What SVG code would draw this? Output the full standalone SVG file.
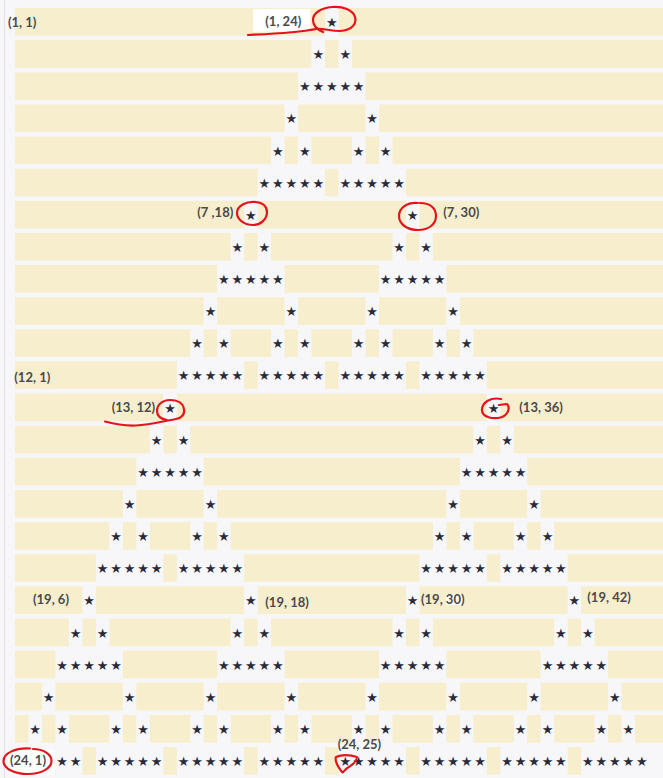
<svg xmlns="http://www.w3.org/2000/svg" width="663" height="778" viewBox="0 0 663 778">
<style>
.bg{fill:#f7f7fa}
.edge{stroke:#e1e1e6;stroke-width:1}
.b{fill:#f7eece}
.s{font-family:"DejaVu Sans",sans-serif;font-size:13px;fill:#2b2b3a;text-anchor:middle}
.box{fill:#ffffff}
.t{font-family:Lato,"Liberation Sans",sans-serif;font-size:13px;font-weight:bold;fill:#4a4a4a}
.r{fill:none;stroke:#e5131b;stroke-width:2.2;stroke-linecap:round;stroke-linejoin:round}
</style>
<rect class="bg" x="0" y="0" width="663" height="778"/>
<line class="edge" x1="4.5" y1="0" x2="4.5" y2="778"/>
<g id="grid">
<g id="row-01" transform="translate(0,8)">
<rect class="b" x="15" y="0" width="310.04" height="27.7"/><rect class="b" x="338.52" y="0" width="324.48" height="27.7"/>
<text class="s" x="331.8" y="19">★</text>
</g>
<g id="row-02" transform="translate(0,40.1)">
<rect class="b" x="15" y="0" width="296.56" height="27.7"/><rect class="b" x="325.04" y="0" width="13.48" height="27.7"/><rect class="b" x="352" y="0" width="311" height="27.7"/>
<text class="s" x="318.3" y="19">★</text><text class="s" x="345.3" y="19">★</text>
</g>
<g id="row-03" transform="translate(0,72.3)">
<rect class="b" x="15" y="0" width="283.08" height="27.7"/><rect class="b" x="365.48" y="0" width="297.52" height="27.7"/>
<text class="s" x="304.8 318.3 331.8 345.3 358.7" y="19">★★★★★</text>
</g>
<g id="row-04" transform="translate(0,104.4)">
<rect class="b" x="15" y="0" width="269.6" height="27.7"/><rect class="b" x="298.08" y="0" width="67.4" height="27.7"/><rect class="b" x="378.96" y="0" width="284.04" height="27.7"/>
<text class="s" x="291.3" y="19">★</text><text class="s" x="372.2" y="19">★</text>
</g>
<g id="row-05" transform="translate(0,136.5)">
<rect class="b" x="15" y="0" width="256.12" height="27.7"/><rect class="b" x="284.6" y="0" width="13.48" height="27.7"/><rect class="b" x="311.56" y="0" width="40.44" height="27.7"/><rect class="b" x="365.48" y="0" width="13.48" height="27.7"/><rect class="b" x="392.44" y="0" width="270.56" height="27.7"/>
<text class="s" x="277.9" y="19">★</text><text class="s" x="304.8" y="19">★</text><text class="s" x="358.7" y="19">★</text><text class="s" x="385.7" y="19">★</text>
</g>
<g id="row-06" transform="translate(0,168.7)">
<rect class="b" x="15" y="0" width="242.64" height="27.7"/><rect class="b" x="325.04" y="0" width="13.48" height="27.7"/><rect class="b" x="405.92" y="0" width="257.08" height="27.7"/>
<text class="s" x="264.4 277.9 291.3 304.8 318.3" y="19">★★★★★</text><text class="s" x="345.3 358.7 372.2 385.7 399.2" y="19">★★★★★</text>
</g>
<g id="row-07" transform="translate(0,200.8)">
<rect class="b" x="15" y="0" width="229.16" height="27.7"/><rect class="b" x="257.64" y="0" width="148.28" height="27.7"/><rect class="b" x="419.4" y="0" width="243.6" height="27.7"/>
<text class="s" x="250.9" y="19">★</text><text class="s" x="412.7" y="19">★</text>
</g>
<g id="row-08" transform="translate(0,232.9)">
<rect class="b" x="15" y="0" width="215.68" height="27.7"/><rect class="b" x="244.16" y="0" width="13.48" height="27.7"/><rect class="b" x="271.12" y="0" width="121.32" height="27.7"/><rect class="b" x="405.92" y="0" width="13.48" height="27.7"/><rect class="b" x="432.88" y="0" width="230.12" height="27.7"/>
<text class="s" x="237.4" y="19">★</text><text class="s" x="264.4" y="19">★</text><text class="s" x="399.2" y="19">★</text><text class="s" x="426.1" y="19">★</text>
</g>
<g id="row-09" transform="translate(0,265)">
<rect class="b" x="15" y="0" width="202.2" height="27.7"/><rect class="b" x="284.6" y="0" width="94.36" height="27.7"/><rect class="b" x="446.36" y="0" width="216.64" height="27.7"/>
<text class="s" x="223.9 237.4 250.9 264.4 277.9" y="19">★★★★★</text><text class="s" x="385.7 399.2 412.7 426.1 439.6" y="19">★★★★★</text>
</g>
<g id="row-10" transform="translate(0,297.2)">
<rect class="b" x="15" y="0" width="188.72" height="27.7"/><rect class="b" x="217.2" y="0" width="67.4" height="27.7"/><rect class="b" x="298.08" y="0" width="67.4" height="27.7"/><rect class="b" x="378.96" y="0" width="67.4" height="27.7"/><rect class="b" x="459.84" y="0" width="203.16" height="27.7"/>
<text class="s" x="210.5" y="19">★</text><text class="s" x="291.3" y="19">★</text><text class="s" x="372.2" y="19">★</text><text class="s" x="453.1" y="19">★</text>
</g>
<g id="row-11" transform="translate(0,329.3)">
<rect class="b" x="15" y="0" width="175.24" height="27.7"/><rect class="b" x="203.72" y="0" width="13.48" height="27.7"/><rect class="b" x="230.68" y="0" width="40.44" height="27.7"/><rect class="b" x="284.6" y="0" width="13.48" height="27.7"/><rect class="b" x="311.56" y="0" width="40.44" height="27.7"/><rect class="b" x="365.48" y="0" width="13.48" height="27.7"/><rect class="b" x="392.44" y="0" width="40.44" height="27.7"/><rect class="b" x="446.36" y="0" width="13.48" height="27.7"/><rect class="b" x="473.32" y="0" width="189.68" height="27.7"/>
<text class="s" x="197" y="19">★</text><text class="s" x="223.9" y="19">★</text><text class="s" x="277.9" y="19">★</text><text class="s" x="304.8" y="19">★</text><text class="s" x="358.7" y="19">★</text><text class="s" x="385.7" y="19">★</text><text class="s" x="439.6" y="19">★</text><text class="s" x="466.6" y="19">★</text>
</g>
<g id="row-12" transform="translate(0,361.4)">
<rect class="b" x="15" y="0" width="161.76" height="27.7"/><rect class="b" x="244.16" y="0" width="13.48" height="27.7"/><rect class="b" x="325.04" y="0" width="13.48" height="27.7"/><rect class="b" x="405.92" y="0" width="13.48" height="27.7"/><rect class="b" x="486.8" y="0" width="176.2" height="27.7"/>
<text class="s" x="183.5 197 210.5 223.9 237.4" y="19">★★★★★</text><text class="s" x="264.4 277.9 291.3 304.8 318.3" y="19">★★★★★</text><text class="s" x="345.3 358.7 372.2 385.7 399.2" y="19">★★★★★</text><text class="s" x="426.1 439.6 453.1 466.6 480.1" y="19">★★★★★</text>
</g>
<g id="row-13" transform="translate(0,393.6)">
<rect class="b" x="15" y="0" width="148.28" height="27.7"/><rect class="b" x="176.76" y="0" width="310.04" height="27.7"/><rect class="b" x="500.28" y="0" width="162.72" height="27.7"/>
<text class="s" x="170" y="19">★</text><text class="s" x="493.5" y="19">★</text>
</g>
<g id="row-14" transform="translate(0,425.7)">
<rect class="b" x="15" y="0" width="134.8" height="27.7"/><rect class="b" x="163.28" y="0" width="13.48" height="27.7"/><rect class="b" x="190.24" y="0" width="283.08" height="27.7"/><rect class="b" x="486.8" y="0" width="13.48" height="27.7"/><rect class="b" x="513.76" y="0" width="149.24" height="27.7"/>
<text class="s" x="156.5" y="19">★</text><text class="s" x="183.5" y="19">★</text><text class="s" x="480.1" y="19">★</text><text class="s" x="507" y="19">★</text>
</g>
<g id="row-15" transform="translate(0,457.8)">
<rect class="b" x="15" y="0" width="121.32" height="27.7"/><rect class="b" x="203.72" y="0" width="256.12" height="27.7"/><rect class="b" x="527.24" y="0" width="135.76" height="27.7"/>
<text class="s" x="143.1 156.5 170 183.5 197" y="19">★★★★★</text><text class="s" x="466.6 480.1 493.5 507 520.5" y="19">★★★★★</text>
</g>
<g id="row-16" transform="translate(0,490)">
<rect class="b" x="15" y="0" width="107.84" height="27.7"/><rect class="b" x="136.32" y="0" width="67.4" height="27.7"/><rect class="b" x="217.2" y="0" width="229.16" height="27.7"/><rect class="b" x="459.84" y="0" width="67.4" height="27.7"/><rect class="b" x="540.72" y="0" width="122.28" height="27.7"/>
<text class="s" x="129.6" y="19">★</text><text class="s" x="210.5" y="19">★</text><text class="s" x="453.1" y="19">★</text><text class="s" x="534" y="19">★</text>
</g>
<g id="row-17" transform="translate(0,522.1)">
<rect class="b" x="15" y="0" width="94.36" height="27.7"/><rect class="b" x="122.84" y="0" width="13.48" height="27.7"/><rect class="b" x="149.8" y="0" width="40.44" height="27.7"/><rect class="b" x="203.72" y="0" width="13.48" height="27.7"/><rect class="b" x="230.68" y="0" width="202.2" height="27.7"/><rect class="b" x="446.36" y="0" width="13.48" height="27.7"/><rect class="b" x="473.32" y="0" width="40.44" height="27.7"/><rect class="b" x="527.24" y="0" width="13.48" height="27.7"/><rect class="b" x="554.2" y="0" width="108.8" height="27.7"/>
<text class="s" x="116.1" y="19">★</text><text class="s" x="143.1" y="19">★</text><text class="s" x="197" y="19">★</text><text class="s" x="223.9" y="19">★</text><text class="s" x="439.6" y="19">★</text><text class="s" x="466.6" y="19">★</text><text class="s" x="520.5" y="19">★</text><text class="s" x="547.5" y="19">★</text>
</g>
<g id="row-18" transform="translate(0,554.2)">
<rect class="b" x="15" y="0" width="80.88" height="27.7"/><rect class="b" x="163.28" y="0" width="13.48" height="27.7"/><rect class="b" x="244.16" y="0" width="175.24" height="27.7"/><rect class="b" x="486.8" y="0" width="13.48" height="27.7"/><rect class="b" x="567.68" y="0" width="95.32" height="27.7"/>
<text class="s" x="102.6 116.1 129.6 143.1 156.5" y="19">★★★★★</text><text class="s" x="183.5 197 210.5 223.9 237.4" y="19">★★★★★</text><text class="s" x="426.1 439.6 453.1 466.6 480.1" y="19">★★★★★</text><text class="s" x="507 520.5 534 547.5 560.9" y="19">★★★★★</text>
</g>
<g id="row-19" transform="translate(0,586.3)">
<rect class="b" x="15" y="0" width="67.4" height="27.7"/><rect class="b" x="95.88" y="0" width="148.28" height="27.7"/><rect class="b" x="257.64" y="0" width="148.28" height="27.7"/><rect class="b" x="419.4" y="0" width="148.28" height="27.7"/><rect class="b" x="581.16" y="0" width="81.84" height="27.7"/>
<text class="s" x="89.1" y="19">★</text><text class="s" x="250.9" y="19">★</text><text class="s" x="412.7" y="19">★</text><text class="s" x="574.4" y="19">★</text>
</g>
<g id="row-20" transform="translate(0,618.5)">
<rect class="b" x="15" y="0" width="53.92" height="27.7"/><rect class="b" x="82.4" y="0" width="13.48" height="27.7"/><rect class="b" x="109.36" y="0" width="121.32" height="27.7"/><rect class="b" x="244.16" y="0" width="13.48" height="27.7"/><rect class="b" x="271.12" y="0" width="121.32" height="27.7"/><rect class="b" x="405.92" y="0" width="13.48" height="27.7"/><rect class="b" x="432.88" y="0" width="121.32" height="27.7"/><rect class="b" x="567.68" y="0" width="13.48" height="27.7"/><rect class="b" x="594.64" y="0" width="68.36" height="27.7"/>
<text class="s" x="75.7" y="19">★</text><text class="s" x="102.6" y="19">★</text><text class="s" x="237.4" y="19">★</text><text class="s" x="264.4" y="19">★</text><text class="s" x="399.2" y="19">★</text><text class="s" x="426.1" y="19">★</text><text class="s" x="560.9" y="19">★</text><text class="s" x="587.9" y="19">★</text>
</g>
<g id="row-21" transform="translate(0,650.6)">
<rect class="b" x="15" y="0" width="40.44" height="27.7"/><rect class="b" x="122.84" y="0" width="94.36" height="27.7"/><rect class="b" x="284.6" y="0" width="94.36" height="27.7"/><rect class="b" x="446.36" y="0" width="94.36" height="27.7"/><rect class="b" x="608.12" y="0" width="54.88" height="27.7"/>
<text class="s" x="62.2 75.7 89.1 102.6 116.1" y="19">★★★★★</text><text class="s" x="223.9 237.4 250.9 264.4 277.9" y="19">★★★★★</text><text class="s" x="385.7 399.2 412.7 426.1 439.6" y="19">★★★★★</text><text class="s" x="547.5 560.9 574.4 587.9 601.4" y="19">★★★★★</text>
</g>
<g id="row-22" transform="translate(0,682.7)">
<rect class="b" x="15" y="0" width="26.96" height="27.7"/><rect class="b" x="55.44" y="0" width="67.4" height="27.7"/><rect class="b" x="136.32" y="0" width="67.4" height="27.7"/><rect class="b" x="217.2" y="0" width="67.4" height="27.7"/><rect class="b" x="298.08" y="0" width="67.4" height="27.7"/><rect class="b" x="378.96" y="0" width="67.4" height="27.7"/><rect class="b" x="459.84" y="0" width="67.4" height="27.7"/><rect class="b" x="540.72" y="0" width="67.4" height="27.7"/><rect class="b" x="621.6" y="0" width="41.4" height="27.7"/>
<text class="s" x="48.7" y="19">★</text><text class="s" x="129.6" y="19">★</text><text class="s" x="210.5" y="19">★</text><text class="s" x="291.3" y="19">★</text><text class="s" x="372.2" y="19">★</text><text class="s" x="453.1" y="19">★</text><text class="s" x="534" y="19">★</text><text class="s" x="614.9" y="19">★</text>
</g>
<g id="row-23" transform="translate(0,714.9)">
<rect class="b" x="15" y="0" width="13.48" height="27.7"/><rect class="b" x="41.96" y="0" width="13.48" height="27.7"/><rect class="b" x="68.92" y="0" width="40.44" height="27.7"/><rect class="b" x="122.84" y="0" width="13.48" height="27.7"/><rect class="b" x="149.8" y="0" width="40.44" height="27.7"/><rect class="b" x="203.72" y="0" width="13.48" height="27.7"/><rect class="b" x="230.68" y="0" width="40.44" height="27.7"/><rect class="b" x="284.6" y="0" width="13.48" height="27.7"/><rect class="b" x="311.56" y="0" width="40.44" height="27.7"/><rect class="b" x="365.48" y="0" width="13.48" height="27.7"/><rect class="b" x="392.44" y="0" width="40.44" height="27.7"/><rect class="b" x="446.36" y="0" width="13.48" height="27.7"/><rect class="b" x="473.32" y="0" width="40.44" height="27.7"/><rect class="b" x="527.24" y="0" width="13.48" height="27.7"/><rect class="b" x="554.2" y="0" width="40.44" height="27.7"/><rect class="b" x="608.12" y="0" width="13.48" height="27.7"/><rect class="b" x="635.08" y="0" width="27.92" height="27.7"/>
<text class="s" x="35.2" y="19">★</text><text class="s" x="62.2" y="19">★</text><text class="s" x="116.1" y="19">★</text><text class="s" x="143.1" y="19">★</text><text class="s" x="197" y="19">★</text><text class="s" x="223.9" y="19">★</text><text class="s" x="277.9" y="19">★</text><text class="s" x="304.8" y="19">★</text><text class="s" x="358.7" y="19">★</text><text class="s" x="385.7" y="19">★</text><text class="s" x="439.6" y="19">★</text><text class="s" x="466.6" y="19">★</text><text class="s" x="520.5" y="19">★</text><text class="s" x="547.5" y="19">★</text><text class="s" x="601.4" y="19">★</text><text class="s" x="628.3" y="19">★</text>
</g>
<g id="row-24" transform="translate(0,747)">
<rect class="b" x="82.4" y="0" width="13.48" height="27.7"/><rect class="b" x="163.28" y="0" width="13.48" height="27.7"/><rect class="b" x="244.16" y="0" width="13.48" height="27.7"/><rect class="b" x="325.04" y="0" width="13.48" height="27.7"/><rect class="b" x="405.92" y="0" width="13.48" height="27.7"/><rect class="b" x="486.8" y="0" width="13.48" height="27.7"/><rect class="b" x="567.68" y="0" width="13.48" height="27.7"/>
<text class="s" x="62.2 75.7" y="19">★★</text><text class="s" x="102.6 116.1 129.6 143.1 156.5" y="19">★★★★★</text><text class="s" x="183.5 197 210.5 223.9 237.4" y="19">★★★★★</text><text class="s" x="264.4 277.9 291.3 304.8 318.3" y="19">★★★★★</text><text class="s" x="345.3 358.7 372.2 385.7 399.2" y="19">★★★★★</text><text class="s" x="426.1 439.6 453.1 466.6 480.1" y="19">★★★★★</text><text class="s" x="507 520.5 534 547.5 560.9" y="19">★★★★★</text><text class="s" x="587.9 601.4 614.9 628.3 641.8" y="19">★★★★★</text>
</g>
</g>
<g id="labels">
<rect class="box" x="253" y="9" width="57.3" height="22.7"/>
<rect class="box" x="446" y="594" width="17.3" height="11"/>
<rect class="box" x="8" y="750" width="47" height="25"/>
<text class="t" x="8" y="27.3">(1, 1)</text>
<text class="t" x="265.3" y="25.7">(1, 24)</text>
<text class="t" x="197.3" y="216.7">(7 ,18)</text>
<text class="t" x="443.3" y="217.3">(7, 30)</text>
<text class="t" x="14.3" y="382.3">(12, 1)</text>
<text class="t" x="111.7" y="412.3">(13, 12)</text>
<text class="t" x="519.3" y="411.7">(13, 36)</text>
<text class="t" x="33" y="604">(19, 6)</text>
<text class="t" x="265.3" y="607.3">(19, 18)</text>
<text class="t" x="421" y="604">(19, 30)</text>
<text class="t" x="587.3" y="601.7">(19, 42)</text>
<text class="t" x="10" y="765">(24, 1)</text>
<text class="t" x="337.7" y="749">(24, 25)</text>
</g>
<g id="annotations">
<path class="r" d="M248,35 C268,34 296,33 316,29 C323,28 330,31 340,31 C352,30 357,24 355,17 C353,10 343,6 332,7 C321,8 313,13 313,20 C313,26 318,30 323,32"/>
<path class="r" d="M256,202 C246,201 237,206 237,213 C237,220 245,225 253,225 C261,225 267,219 267,212 C267,206 262,202 255,202"/>
<path class="r" d="M418,203 C407,202 399,208 399,216 C399,224 407,230 418,230 C429,230 436,224 436,216 C436,208 430,203 420,203"/>
<path class="r" d="M105,421.5 C118,425 126,426 136,425.5 C150,425 164,421 176,419 C182,418 185,414 184,409 C183,403 177,400 170,400 C162,400 157,405 157,411 C157,416 161,419 167,420"/>
<path class="r" d="M501,399 C491,397 482,402 482,410 C482,417 493,420 502,417 C509,414 510,407 507,404 L499,405"/>
<path class="r" d="M30,748.5 C16,747.5 3.5,753 3.5,761 C3.5,769 15,774 28,774 C42,774 51.5,768 51.5,761 C51.5,754 43,749 33,749"/>
<path class="r" d="M336,757 C341,754.5 350,754.5 357,757 C357,763 350,766 346,769 C344,771 343,773 342,772 C339,768 334,762 336,757 Z"/>
</g>
</svg>
